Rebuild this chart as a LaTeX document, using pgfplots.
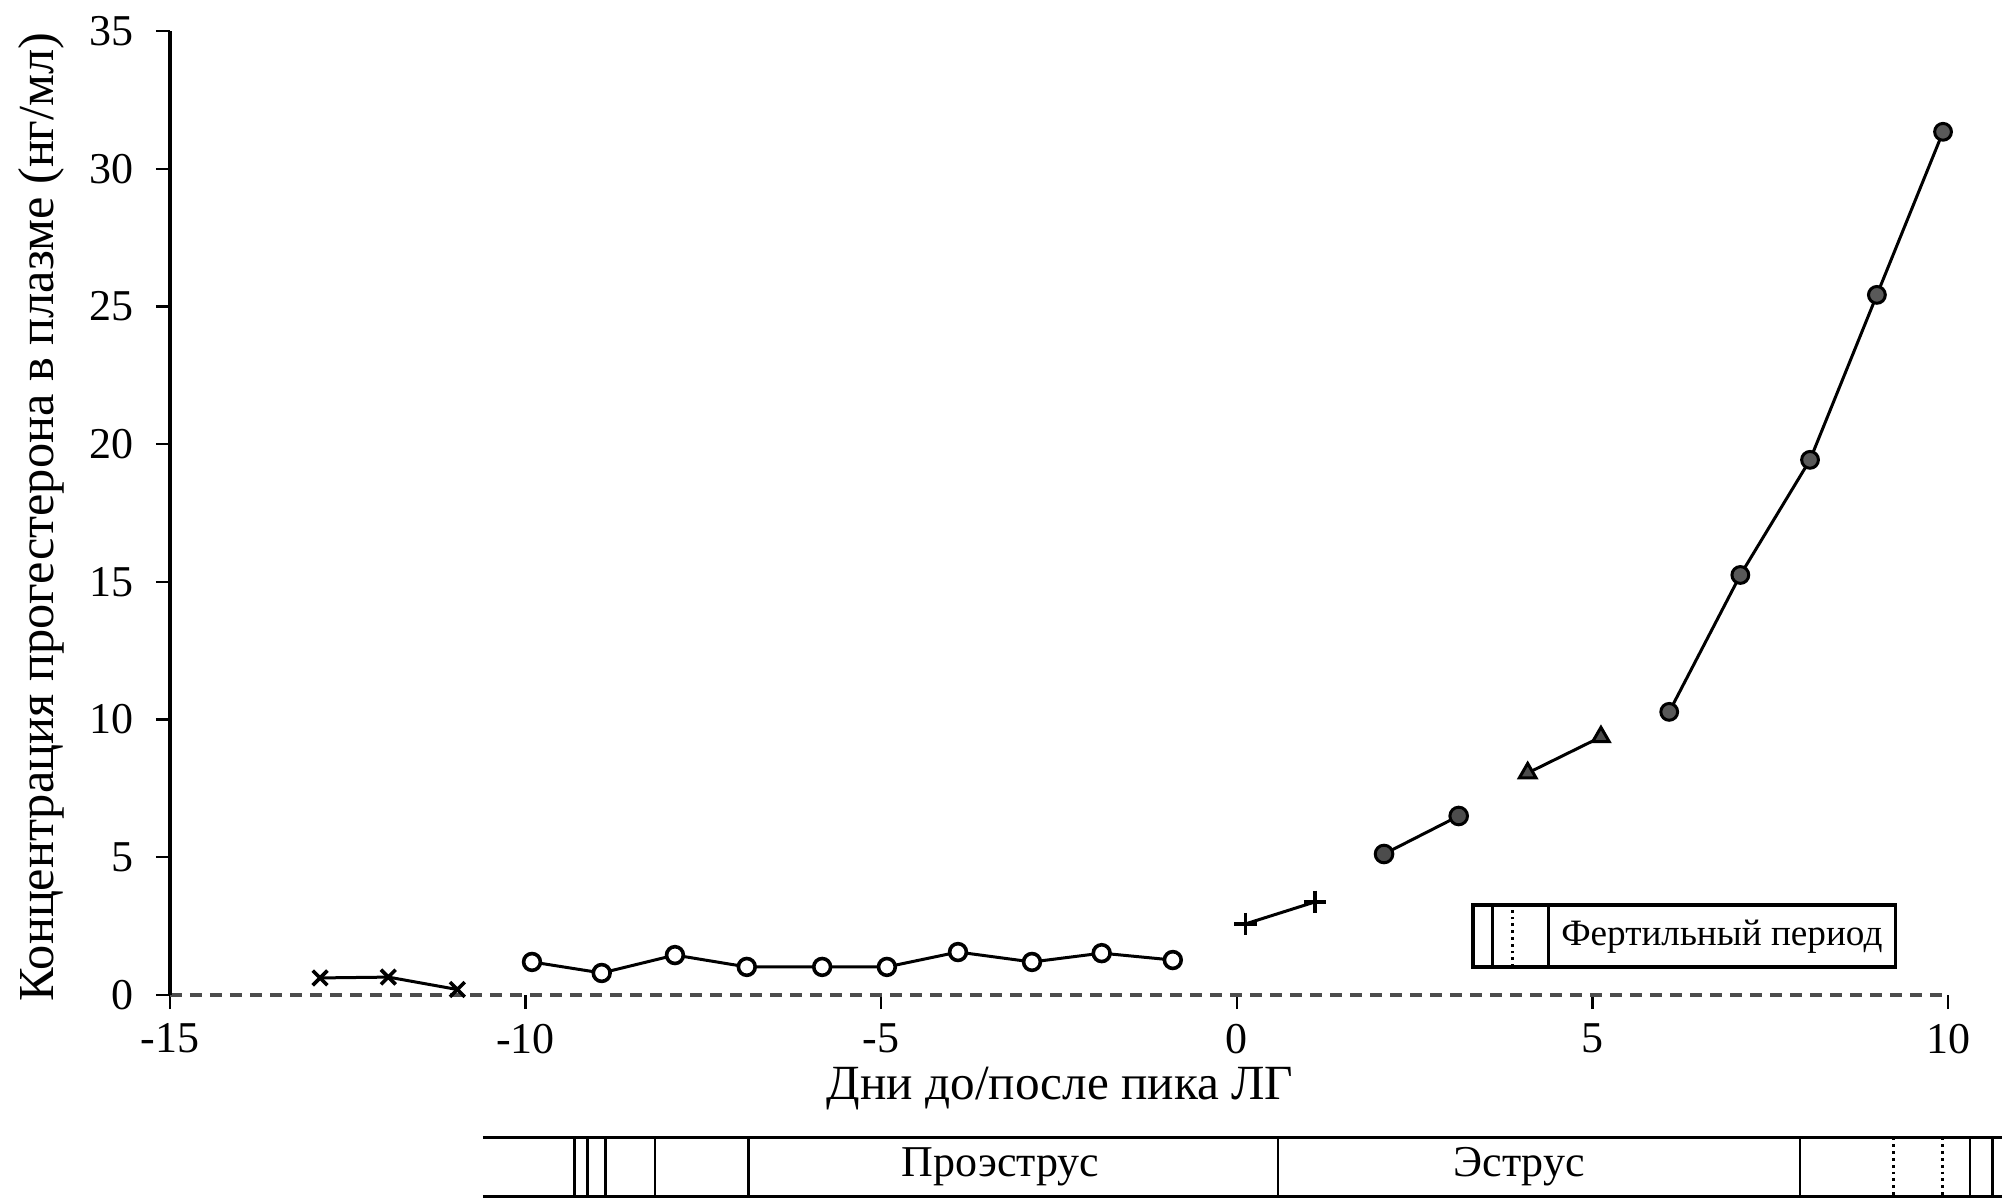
\documentclass[border=0pt]{standalone}
\usepackage{fontspec}
\setmainfont{Liberation Serif}
\usepackage{pgfplots}
\pgfplotsset{compat=1.18}
\begin{document}
\begin{tikzpicture}
\begin{axis}[
  scale only axis, width=444.5pt, height=241pt,
  xmin=-15, xmax=10, ymin=0, ymax=35,
  axis x line*=bottom, axis y line*=left,
  x axis line style={-, black!70, densely dashed, line width=0.8pt},
  y axis line style={-, black, line width=0.8pt},
  xtick={-15,-10,...,10}, ytick={0,5,...,35},
  tick align=outside, major tick length=3.5pt,
  tick style={black, line width=0.6pt},
  xtick pos=bottom, ytick pos=left,
  /pgf/number format/assume math mode=true,
  ticklabel style={font=\fontsize{11}{13}\selectfont},
  yticklabel style={xshift=-2pt},
  xticklabel style={inner sep=0.5pt, yshift=-3pt},
  clip=false,
  xlabel={Дни до/после пика ЛГ},
  ylabel={Концентрация прогестерона в плазме (нг/мл)},
  xlabel style={font=\fontsize{12.3}{15}\selectfont, inner sep=0pt, at={(axis description cs:0.5006,-0.097)}, anchor=center},
  ylabel style={font=\fontsize{12.6}{15}\selectfont, at={(axis description cs:-0.0726,0.496)}, anchor=center},
]
% series
\addplot[black, line width=0.75pt, mark=x, mark size=2.6pt, mark options={solid, line width=0.9pt}]
  coordinates {(-12.89,0.62) (-11.93,0.65) (-10.96,0.2)};
\addplot[black, line width=0.75pt, mark=*, mark size=2.1pt, mark options={fill=white, line width=0.9pt}]
  coordinates {(-9.91,1.2) (-8.93,0.8) (-7.9,1.45) (-6.89,1.02) (-5.83,1.02) (-4.92,1.02) (-3.92,1.56) (-2.88,1.2) (-1.9,1.52) (-0.9,1.27)};
\addplot[black, line width=0.75pt, mark=+, mark size=2.8pt, mark options={line width=0.9pt}]
  coordinates {(0.12,2.58) (1.1,3.38)};
\addplot[black, line width=0.75pt, mark=*, mark size=2.2pt, mark options={fill=black!70}]
  coordinates {(2.07,5.12) (3.12,6.5)};
\addplot[black, line width=0.75pt, mark=triangle*, mark size=2.4pt, mark options={fill=black!70}]
  coordinates {(4.09,8.06) (5.12,9.37)};
\addplot[black, line width=0.75pt, mark=*, mark size=2.1pt, mark options={fill=black!65}]
  coordinates {(6.08,10.28) (7.08,15.25) (8.06,19.43) (9.0,25.42) (9.93,31.34)};
% fertile period box
\draw[black, line width=0.8pt] (axis cs:3.32,1.02) rectangle (axis cs:9.26,3.27);
\draw[black, line width=0.7pt] (axis cs:3.6,1.02) -- (axis cs:3.6,3.27);
\draw[black, line width=0.7pt, densely dotted] (axis cs:3.88,1.02) -- (axis cs:3.88,3.27);
\draw[black, line width=0.8pt] (axis cs:4.38,1.02) -- (axis cs:4.38,3.27);
\node[font=\fontsize{9.3}{11}\selectfont] at (axis cs:6.82,2.12) {Фертильный период};
% bottom phase bar
\draw[black, line width=0.8pt] (axis cs:-10.6,-5.18) -- (axis cs:10.8,-5.18);
\draw[black, line width=0.8pt] (axis cs:-10.6,-7.31) -- (axis cs:10.8,-7.31);
\pgfplotsinvokeforeach{-9.31,-9.13,-8.88,-8.18,-6.87,0.58,7.92,10.31,10.63}{
  \draw[black, line width=0.7pt] (axis cs:#1,-5.18) -- (axis cs:#1,-7.31);
}
\pgfplotsinvokeforeach{9.23,9.92}{
  \draw[black, line width=0.7pt, densely dotted] (axis cs:#1,-5.18) -- (axis cs:#1,-7.31);
}
\node[font=\fontsize{11}{13}\selectfont] at (axis cs:-3.32,-6.25) {Проэструс};
\node[font=\fontsize{11}{13}\selectfont] at (axis cs:3.97,-6.25) {Эструс};
\end{axis}
\pgfresetboundingbox
\path[use as bounding box] ([shift={(-42.5pt,-51.75pt)}]current axis.south west) rectangle ([shift={(13.5pt,7.75pt)}]current axis.north east);
\end{tikzpicture}
\end{document}
